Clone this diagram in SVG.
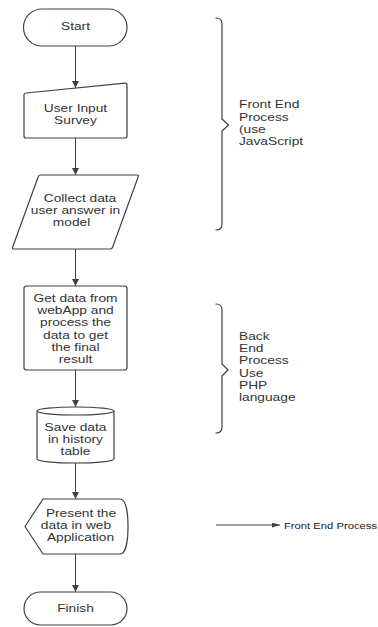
<svg xmlns="http://www.w3.org/2000/svg" width="378" height="627" viewBox="0 0 378 627">
<style>
.shape{fill:#ffffff;stroke:#3d4247;stroke-width:1.2;stroke-linejoin:round}
.conn{fill:none;stroke:#3d4247;stroke-width:1}
.brace{fill:none;stroke:#3d4247;stroke-width:1.2;stroke-linejoin:round;stroke-linecap:round}
text{font-family:"Liberation Sans",Arial,sans-serif;font-size:11px;fill:#333333}
.c{text-anchor:middle}
.legend{font-size:9px;fill:#222222}
</style>
<defs>
<marker id="arr" viewBox="0 0 8 8" refX="8" refY="4" markerWidth="7" markerHeight="7" markerUnits="userSpaceOnUse" orient="auto">
<path d="M0,0 L8,4 L0,8 Z" fill="#3d4247"/>
</marker>
<marker id="arrL" viewBox="0 0 10 6" refX="10" refY="3" markerWidth="8" markerHeight="5" markerUnits="userSpaceOnUse" orient="auto">
<path d="M0,0 L10,3 L0,6 Z" fill="#3d4247"/>
</marker>
</defs>
<rect width="378" height="627" fill="#ffffff"/>

<g id="connectors">
<line class="conn" x1="75.5" y1="46" x2="75.5" y2="88" marker-end="url(#arr)"/>
<line class="conn" x1="75.5" y1="138" x2="75.5" y2="175" marker-end="url(#arr)"/>
<line class="conn" x1="75.5" y1="249" x2="75.5" y2="286" marker-end="url(#arr)"/>
<line class="conn" x1="75.5" y1="370" x2="75.5" y2="407" marker-end="url(#arr)"/>
<line class="conn" x1="75.5" y1="463" x2="75.5" y2="499" marker-end="url(#arr)"/>
<line class="conn" x1="75.5" y1="554" x2="75.5" y2="592" marker-end="url(#arr)"/>
</g>

<g id="start">
<rect class="shape" x="23.5" y="9" width="103.5" height="37" rx="18.5"/>
<text class="c" transform="translate(75.5 0) scale(1.25 1)" x="0" y="30">Start</text>
</g>

<g id="user-input">
<path class="shape" d="M26,93 L125,83.2 Q127,83 127,85 L127,136 Q127,138 125,138 L26,138 Q24,138 24,136 L24,95 Q24,93 26,93 Z"/>
<text class="c" transform="translate(75.5 0) scale(1.25 1)" x="0" y="112.3">User Input</text>
<text class="c" transform="translate(75.5 0) scale(1.25 1)" x="0" y="124.5">Survey</text>
</g>

<g id="collect-data">
<path class="shape" d="M40.5,175 L137,175 Q138.8,175 138.2,176.8 L112.6,247.3 Q112,249 110.2,249 L13.8,249 Q12,249 12.6,247.3 L38.2,176.8 Q38.8,175 40.5,175 Z"/>
<text class="c" transform="translate(80 0) scale(1.25 1)" x="0" y="202">Collect data</text>
<text class="c" transform="translate(75.5 0) scale(1.25 1)" x="0" y="214.3">user answer in</text>
<text class="c" transform="translate(71.5 0) scale(1.25 1)" x="0" y="226.5">model</text>
</g>

<g id="get-data">
<rect class="shape" x="24" y="286" width="103" height="84" rx="2.5"/>
<text class="c" transform="translate(75.5 0) scale(1.25 1)" x="0" y="302">Get data from</text>
<text class="c" transform="translate(75.5 0) scale(1.25 1)" x="0" y="314.3">webApp and</text>
<text class="c" transform="translate(75.5 0) scale(1.25 1)" x="0" y="326.5">process the</text>
<text class="c" transform="translate(75.5 0) scale(1.25 1)" x="0" y="338.8">data to get</text>
<text class="c" transform="translate(75.5 0) scale(1.25 1)" x="0" y="351">the final</text>
<text class="c" transform="translate(75.5 0) scale(1.25 1)" x="0" y="363.3">result</text>
</g>

<g id="save-data">
<path class="shape" d="M37,411 A38.5,4 0 0 1 114,411 L114,459 A38.5,4 0 0 1 37,459 Z"/>
<path class="shape" fill="none" d="M37,411 A38.5,4 0 0 0 114,411"/>
<text class="c" transform="translate(75.5 0) scale(1.25 1)" x="0" y="431">Save data</text>
<text class="c" transform="translate(75.5 0) scale(1.25 1)" x="0" y="443.3">in history</text>
<text class="c" transform="translate(75.5 0) scale(1.25 1)" x="0" y="455.5">table</text>
</g>

<g id="present-data">
<path class="shape" d="M25,526.5 L43,499 L120,499 C126.5,499 128,515 128,526.5 C128,538 126.5,554 120,554 L43,554 Z"/>
<text class="c" transform="translate(81 0) scale(1.25 1)" x="0" y="517">Present the</text>
<text class="c" transform="translate(76 0) scale(1.25 1)" x="0" y="529.3">data in web</text>
<text class="c" transform="translate(80.5 0) scale(1.25 1)" x="0" y="541.5">Application</text>
</g>

<g id="finish">
<rect class="shape" x="24" y="592" width="103" height="33" rx="16.5"/>
<text class="c" transform="translate(75.5 0) scale(1.25 1)" x="0" y="612">Finish</text>
</g>

<g id="front-end-brace">
<path class="brace" d="M216,18 Q222,18 222,24 L222,119 L228.5,125 L222,131 L222,224 Q222,230 216,230"/>
<text transform="translate(239 0) scale(1.25 1)" x="0" y="108.5">Front End</text>
<text transform="translate(239 0) scale(1.25 1)" x="0" y="120.8">Process</text>
<text transform="translate(239 0) scale(1.25 1)" x="0" y="133">(use</text>
<text transform="translate(239 0) scale(1.25 1)" x="0" y="145.3">JavaScript</text>
</g>

<g id="back-end-brace">
<path class="brace" d="M216,304 Q222,304 222,310 L222,364 L228,370 L222,376 L222,427 Q222,433 216,433"/>
<text transform="translate(239 0) scale(1.25 1)" x="0" y="340">Back</text>
<text transform="translate(239 0) scale(1.25 1)" x="0" y="352.3">End</text>
<text transform="translate(239 0) scale(1.25 1)" x="0" y="364.5">Process</text>
<text transform="translate(239 0) scale(1.25 1)" x="0" y="376.8">Use</text>
<text transform="translate(239 0) scale(1.25 1)" x="0" y="389">PHP</text>
<text transform="translate(239 0) scale(1.25 1)" x="0" y="401.3">language</text>
</g>

<g id="legend">
<line class="conn" x1="216" y1="525" x2="280" y2="525" marker-end="url(#arrL)"/>
<text class="legend" transform="translate(284 0) scale(1.25 1)" x="0" y="529">Front End Process</text>
</g>
</svg>
